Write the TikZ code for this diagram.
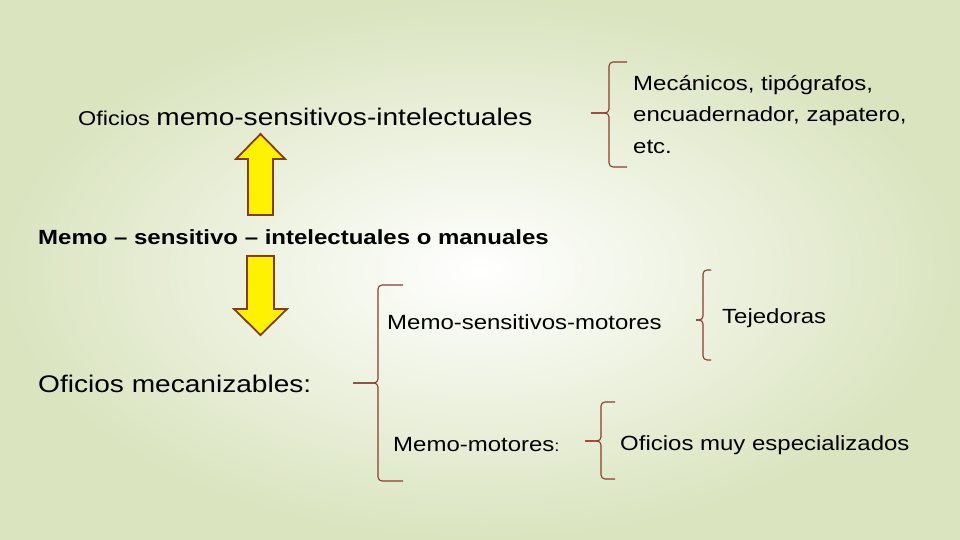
\documentclass[tikz,border=0pt]{standalone}
\usepackage{fontspec}
\setmainfont{Liberation Sans}[FakeStretch=1.17]
\usetikzlibrary{calc}
\definecolor{fondo}{HTML}{DAE4BF}
\definecolor{llavecol}{HTML}{8C3B2E}
\definecolor{bordeflecha}{HTML}{843C0C}
\tikzset{t/.style={font=\fontsize{20.5}{20.5}\selectfont, inner sep=0pt, anchor=west}}
\tikzset{g/.style={font=\fontsize{24}{24}\selectfont, inner sep=0pt, anchor=west}}
\tikzset{llave/.style={draw=llavecol, line width=1.1pt, rounded corners=4pt}}
\tikzset{flecha/.style={draw=bordeflecha, fill=yellow, line width=1.8pt, line join=miter}}

\begin{document}
\begin{tikzpicture}[x=1pt,y=-1pt]
  \useasboundingbox (0,0) rectangle (960,540);
  \shade [inner color=white, outer color=fondo] (0,0) rectangle (960,540);

  % textos
  \node (intel) [t, anchor=base west] at (78,126)
    {{\fontsize{20}{20}\selectfont Oficios} {\fontsize{24}{24}\selectfont memo-sensitivos-intelectuales}};
  \node (mecan) [t, anchor=north west, align=left, font=\fontsize{20.5}{31.5}\selectfont] at (633,75)
    {Mecánicos, tipógrafos,\\encuadernador, zapatero,\\etc.};
  \node (centro) [t, font=\bfseries\fontsize{20.5}{20.5}\selectfont] at (38,237)
    {Memo – sensitivo – intelectuales o manuales};
  \node (motsens) [t] at (387,322) {Memo-sensitivos-motores};
  \node (tejed) [t] at (722,318) {Tejedoras};
  \node (mecaniz) [g] at (38,384) {Oficios mecanizables:};
  \node (memomot) [t] at (393,445) {Memo-motores{\fontsize{16}{16}\selectfont :}};
  \node (espec) [t] at (620,445) {Oficios muy especializados};

  % flechas
  \coordinate (arriba) at (260.5,134);
  \draw [flecha] (arriba) -- ++(24.5,25) -- ++(-12,0) -- ++(0,56) -- ++(-25,0)
    -- ++(0,-56) -- ++(-12,0) -- cycle;
  \coordinate (abajo) at (260.5,335);
  \draw [flecha] (abajo) -- ++(26.5,-26) -- ++(-13,0) -- ++(0,-53) -- ++(-27,0)
    -- ++(0,53) -- ++(-13,0) -- cycle;

  % llaves
  \coordinate (k1) at (591,113);
  \draw [llave] (627,62) -| (609,113) -- (k1);
  \draw [llave] (627,167) -| (609,113) -- (k1);
  \coordinate (k2) at (353,383);
  \draw [llave] (403,285) -| (378,383) -- (k2);
  \draw [llave] (403,481) -| (378,383) -- (k2);
  \coordinate (k3) at (696,320);
  \draw [llave] (711,270) -| (703,320) -- (k3);
  \draw [llave] (711,360) -| (703,320) -- (k3);
  \coordinate (k4) at (585,441);
  \draw [llave] (615,402) -| (601,441) -- (k4);
  \draw [llave] (615,479) -| (601,441) -- (k4);
\end{tikzpicture}
\end{document}
